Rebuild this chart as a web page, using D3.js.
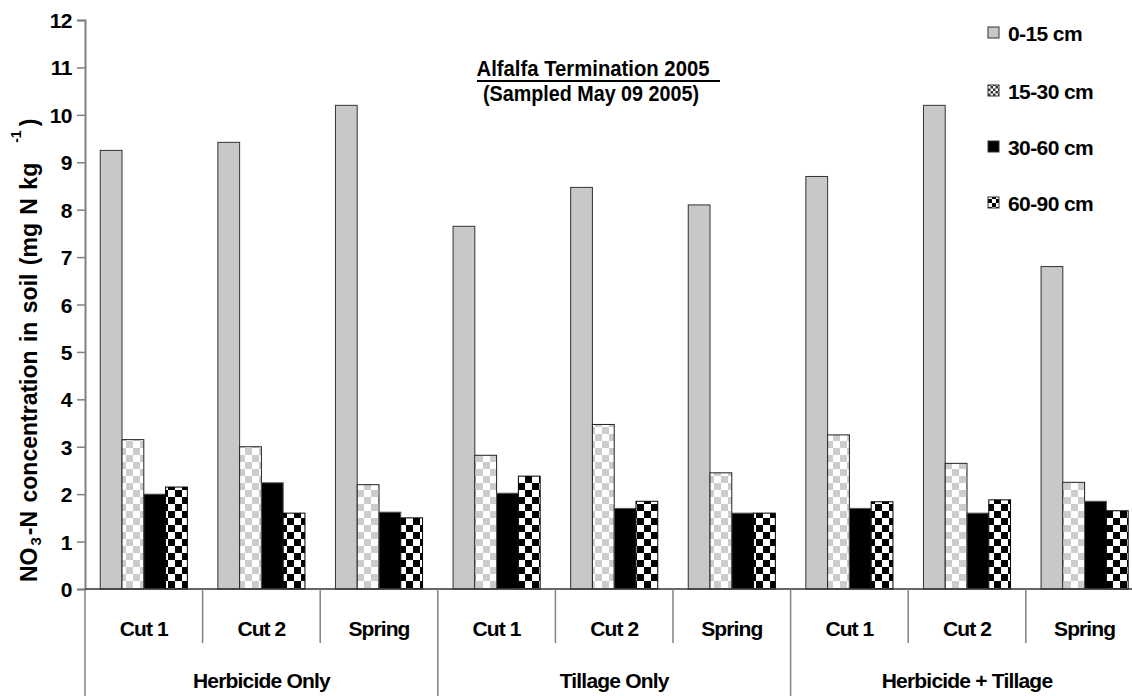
<!DOCTYPE html>
<html>
<head>
<meta charset="utf-8">
<script src="https://cdn.jsdelivr.net/npm/d3@7"></script>
<style>
  body { margin: 0; background: #fff; }
  svg text { font-family: "Liberation Sans", Arial, sans-serif; font-weight: bold; fill: #000; }
</style>
</head>
<body>
<div id="chart"></div>
<script>
// chart data
const groups = ["Herbicide Only", "Tillage Only", "Herbicide + Tillage"];
const cuts = ["Cut 1", "Cut 2", "Spring"];
const depths = ["0-15 cm", "15-30 cm", "30-60 cm", "60-90 cm"];
const yTicks = [0, 1, 2, 3, 4, 5, 6, 7, 8, 9, 10, 11, 12];

// one array per depth, in order: HO cut1, cut2, spring, TO ..., HT ...
const d0_15  = [9.25, 9.42, 10.2, 7.65, 8.47, 8.1, 8.7, 10.2, 6.8];
const d15_30 = [3.15, 3.0, 2.2, 2.82, 3.47, 2.45, 3.25, 2.65, 2.25];
const d30_60 = [2.0, 2.24, 1.62, 2.02, 1.7, 1.6, 1.7, 1.6, 1.85];
const d60_90 = [2.15, 1.6, 1.5, 2.38, 1.85, 1.6, 1.84, 1.88, 1.65];
const seriesValues = [d0_15, d15_30, d30_60, d60_90];

const W = 1132, H = 696;
const margin = {top: 20, left: 85, bottom: 589};
const plotRight = 1143.4;

const svg = d3.select("#chart").append("svg")
    .attr("width", W)
    .attr("height", H);

// patterns for the checkered bars
const defs = svg.append("defs");
function checker(id, size, a, b) {
    const p = defs.append("pattern")
        .attr("id", id)
        .attr("patternUnits", "userSpaceOnUse")
        .attr("width", size * 2)
        .attr("height", size * 2);
    p.append("rect").attr("width", size * 2).attr("height", size * 2).attr("fill", a);
    p.append("rect").attr("x", size).attr("width", size).attr("height", size).attr("fill", b);
    p.append("rect").attr("y", size).attr("width", size).attr("height", size).attr("fill", b);
}
checker("lightCheck", 7, "#ffffff", "#cccccc");
checker("darkCheck", 7, "#ffffff", "#000000");
checker("lightCheckS", 2.5, "#ffffff", "#333333");
checker("darkCheckS", 4, "#ffffff", "#000000");

const fills = ["#c8c8c8", "url(#lightCheck)", "#000000", "url(#darkCheck)"];
const strokes = ["#333333", "#222222", "#555555", "#000000"];
const legendFills = ["#c8c8c8", "url(#lightCheckS)", "#000000", "url(#darkCheckS)"];

// scales
const x0 = d3.scaleBand().domain(groups).range([margin.left, plotRight]);
const x1 = d3.scaleBand().domain(cuts).range([0, x0.bandwidth()]);
const x2 = d3.scaleBand().domain(depths).range([0, x1.bandwidth()])
    .paddingInner(0).paddingOuter(0.7);
const y = d3.scaleLinear().domain([0, 12]).range([margin.bottom, margin.top]);

// y axis
const yAxis = d3.axisLeft(y).tickValues(yTicks).tickSize(8).tickPadding(5);
const yg = svg.append("g")
    .attr("transform", "translate(" + margin.left + ",0)")
    .call(yAxis);
yg.select(".domain").attr("stroke", "#808080").attr("stroke-width", 2);
yg.selectAll(".tick line").attr("stroke", "#808080").attr("stroke-width", 1.5);
yg.selectAll(".tick text")
    .style("font-size", "21px")
    .style("letter-spacing", "-0.5px")
    .attr("dy", "0.36em");

// flatten into bar records
const bars = [];
groups.forEach((g, gi) => {
    cuts.forEach((c, ci) => {
        depths.forEach((d, di) => {
            bars.push({group: g, cut: c, depth: d, di: di, value: seriesValues[di][gi * 3 + ci]});
        });
    });
});

svg.append("g").selectAll("rect")
    .data(bars)
    .enter()
    .append("rect")
    .attr("x", d => x0(d.group) + x1(d.cut) + x2(d.depth))
    .attr("y", d => y(d.value))
    .attr("width", x2.bandwidth())
    .attr("height", d => y(0) - y(d.value))
    .attr("fill", d => fills[d.di])
    .attr("stroke", d => strokes[d.di])
    .attr("stroke-width", 1);

// x axis line
svg.append("line")
    .attr("x1", margin.left).attr("x2", W)
    .attr("y1", y(0)).attr("y2", y(0))
    .attr("stroke", "#333").attr("stroke-width", 1.5);

// category separators (short) and group separators (long)
const catBounds = [];
groups.forEach(g => cuts.forEach(c => catBounds.push({g: g, c: c})));
svg.append("g").selectAll("line")
    .data(catBounds)
    .enter()
    .append("line")
    .attr("x1", d => x0(d.g) + x1(d.c))
    .attr("x2", d => x0(d.g) + x1(d.c))
    .attr("y1", y(0))
    .attr("y2", d => d.c === cuts[0] ? H : 643)
    .attr("stroke", "#808080")
    .attr("stroke-width", 1.5);

// category labels
svg.append("g").selectAll("text")
    .data(catBounds)
    .enter()
    .append("text")
    .attr("x", d => x0(d.g) + x1(d.c) + x1.bandwidth() / 2)
    .attr("y", 636)
    .attr("text-anchor", "middle")
    .style("font-size", "21px")
    .style("letter-spacing", "-0.9px")
    .text(d => d.c);

// group labels
svg.append("g").selectAll("text")
    .data(groups)
    .enter()
    .append("text")
    .attr("x", d => x0(d) + x0.bandwidth() / 2)
    .attr("y", 688)
    .attr("text-anchor", "middle")
    .style("font-size", "21px")
    .style("letter-spacing", "-0.8px")
    .text(d => d);

// y axis title with sub/superscript
const yTitle = svg.append("text")
    .attr("transform", "translate(37,582) rotate(-90)")
    .attr("text-anchor", "start")
    .style("font-size", "23px")
    .style("word-spacing", "2px");
yTitle.append("tspan").text("NO");
yTitle.append("tspan").attr("dx", 2).attr("dy", 4).style("font-size", "15px").text("3");
yTitle.append("tspan").attr("dx", 2).attr("dy", -4).text("-N concentration in soil (mg N kg");
yTitle.append("tspan").attr("dx", 20).attr("dy", -16).style("font-size", "14px").text("-1");
yTitle.append("tspan").attr("dx", 4).attr("dy", 16).text(")");

// chart title
const title = svg.append("g");
title.append("text")
    .attr("x", 593).attr("y", 76)
    .attr("text-anchor", "middle")
    .style("font-size", "22px")
    .attr("textLength", 233)
    .attr("lengthAdjust", "spacingAndGlyphs")
    .text("Alfalfa Termination 2005");
title.append("line")
    .attr("x1", 477).attr("x2", 720)
    .attr("y1", 81).attr("y2", 81)
    .attr("stroke", "#000").attr("stroke-width", 2);
title.append("text")
    .attr("x", 591).attr("y", 101)
    .attr("text-anchor", "middle")
    .style("font-size", "22px")
    .attr("textLength", 216)
    .attr("lengthAdjust", "spacingAndGlyphs")
    .text("(Sampled May 09 2005)");

// legend
const legend = svg.append("g").selectAll("g")
    .data(depths)
    .enter()
    .append("g")
    .attr("transform", (d, i) => "translate(988," + [33, 91, 147, 203][i] + ")");
legend.append("rect")
    .attr("x", 0).attr("y", -6)
    .attr("width", 11).attr("height", 11)
    .attr("fill", (d, i) => legendFills[i])
    .attr("stroke", "#333").attr("stroke-width", 1);
legend.append("text")
    .attr("x", 20).attr("y", 0)
    .attr("dy", "0.36em")
    .style("font-size", "21px")
    .style("letter-spacing", "-0.6px")
    .text(d => d);
</script>
</body>
</html>
